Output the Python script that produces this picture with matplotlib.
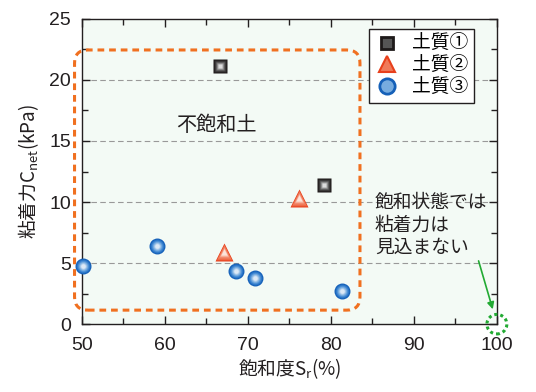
import numpy as np
import matplotlib
matplotlib.use('Agg')
import matplotlib.pyplot as plt
from matplotlib.patches import FancyBboxPatch, Ellipse
from matplotlib.ticker import MultipleLocator

plt.rcParams['font.family'] = ['Liberation Sans', 'Noto Sans CJK JP', 'DejaVu Sans']
plt.rcParams['mathtext.fontset'] = 'custom'
plt.rcParams['mathtext.rm'] = 'Noto Sans CJK JP'
plt.rcParams['mathtext.it'] = 'Noto Sans CJK JP'

# 土質① (square), 土質② (triangle), 土質③ (circle)
sr1 = [66.6, 79.2]
c1 = [21.1, 11.4]
sr2 = [67.1, 76.2]
c2 = [5.9, 10.3]
sr3 = [50.1, 59.0, 68.6, 70.8, 81.3]
c3 = [4.75, 6.4, 4.35, 3.75, 2.75]

labels = ['土質①', '土質②', '土質③']

fig = plt.figure(figsize=(5.36, 3.92), dpi=100)
ax = fig.add_axes([0.153, 0.173, 0.774, 0.779])
ax.set_facecolor('#f3faf5')

ax.set_xlim(50, 100)
ax.set_ylim(0, 25)
ax.xaxis.set_major_locator(MultipleLocator(10))
ax.xaxis.set_minor_locator(MultipleLocator(5))
ax.yaxis.set_major_locator(MultipleLocator(5))
ax.yaxis.set_minor_locator(MultipleLocator(2.5))
ax.tick_params(which='both', direction='in', top=True, right=True, labelsize=14, width=1,
               colors='#231f20')
ax.tick_params(axis='x', which='major', length=6, pad=9)
ax.tick_params(axis='y', which='major', length=6, pad=8)
ax.tick_params(which='minor', length=4)
for sp in ax.spines.values():
    sp.set_linewidth(1)
    sp.set_color('#231f20')
for yv in [5, 10, 15, 20]:
    ax.axhline(yv, color='#999999', lw=0.8, ls=(0, (5, 3)), zorder=1)

# non-math part of a mathtext string uses the first family only -> name the CJK font
ax.set_xlabel('飽和度S$_\\mathrm{r}$(%)', fontsize=13.5, labelpad=2, color='#231f20',
              family='Noto Sans CJK JP')
ax.set_ylabel('粘着力C$_\\mathrm{net}$(kPa)', fontsize=13.5, labelpad=6, color='#231f20',
              family='Noto Sans CJK JP')


# gradient-ish markers: stack smaller, lighter markers on top
def shaded(x, y, marker, size, cols, ms_scale, axes=ax):
    n = len(cols)
    for i, col in enumerate(cols):
        s = size * (1 - i * ms_scale / n)
        axes.plot(x, y, ls='none', marker=marker, ms=s, mfc=col, mec='none',
                  zorder=5 + i, clip_on=False)


sq_cols = ['#1e1a1a', '#2e2c2c', '#4a4949', '#727272', '#a5a5a5', '#dcdcdc']
tri_cols = ['#e8401c', '#ec5a36', '#f07a5a', '#f49b82', '#f8c0ad', '#fde3da']
cir_cols = ['#1560b8', '#2a76c8', '#4b8fd6', '#77acdf', '#a8c9ea', '#dce9f6']

shaded(sr1, c1, 's', 10, sq_cols, 0.85)
shaded(sr2, c2, '^', 13, tri_cols, 0.8)
shaded(sr3, c3, 'o', 11.5, cir_cols, 0.85)

h1, = ax.plot([], [], ls='none', marker='s', ms=9, mfc='#555555', mec='#1e1a1a', mew=2)
h2, = ax.plot([], [], ls='none', marker='^', ms=12, mfc='#f07a5a', mec='#e8401c', mew=1.5)
h3, = ax.plot([], [], ls='none', marker='o', ms=11, mfc='#77acdf', mec='#1560b8', mew=2)
leg = ax.legend([h1, h2, h3], labels, loc='upper right', bbox_to_anchor=(0.955, 0.98),
                fontsize=13.5, frameon=True, fancybox=False, edgecolor='#231f20',
                framealpha=1, handletextpad=0.7, borderpad=0.35, labelspacing=0.2,
                handlelength=1.2, borderaxespad=0.2)
leg.get_frame().set_linewidth(1)
leg.set_zorder(20)

# orange rounded dashed box around the unsaturated region
box = FancyBboxPatch((49.1, 1.15), 34.4, 21.3,
                     boxstyle='round,pad=0,rounding_size=1.6',
                     mutation_aspect=8.3 / 12.2, fill=False,
                     ec='#f07020', lw=2.2, ls=(0, (2.2, 1.6)), clip_on=False, zorder=4)
ax.add_patch(box)
ax.text(66.2, 16.3, '不飽和土', fontsize=14.5, ha='center', va='center', color='#231f20')

# saturated note and dotted circle at Sr = 100
ax.add_patch(Ellipse((100, 0), 2.4, 1.6, fill=False, ec='#22aa33', lw=2.2,
                     ls=(0, (1, 1)), clip_on=False, zorder=6))
ax.text(85.3, 10.6, '飽和状態では\n粘着力は\n見込まない', fontsize=13.5, ha='left', va='top',
        linespacing=1.38, color='#231f20')
ax.annotate('', xy=(99.6, 1.0), xytext=(97.7, 5.4),
            arrowprops=dict(arrowstyle='-|>', color='#22aa33', lw=1.2,
                            mutation_scale=10))

fig.savefig('out.png', dpi=100)
